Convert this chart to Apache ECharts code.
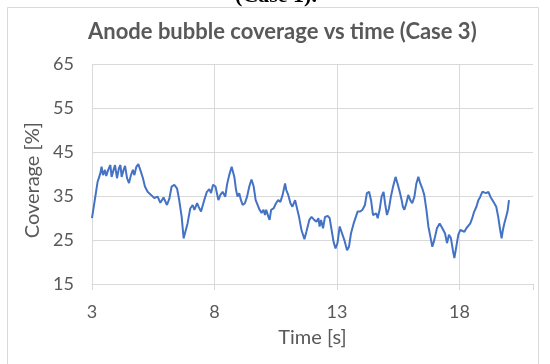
<!DOCTYPE html>
<html>
<head>
<meta charset="utf-8">
<script src="https://cdn.jsdelivr.net/npm/echarts@6/dist/echarts.min.js"></script>
<style>
  html, body { margin: 0; padding: 0; background: #ffffff; }
  #chart { width: 550px; height: 364px; }
</style>
</head>
<body>
<div id="chart"></div>
<script>
// Anode bubble coverage over time, Case 3
const timeS = [
  3.00, 3.23, 3.34, 3.39, 3.45, 3.53, 3.58, 3.67, 3.75, 3.80, 3.88, 3.94, 4.02, 4.10, 4.16, 4.21,
  4.29, 4.35, 4.43, 4.51, 4.59, 4.67, 4.73, 4.81, 4.89, 4.97, 5.08, 5.16, 5.27, 5.41, 5.54, 5.68,
  5.79, 5.92, 6.06, 6.16, 6.25, 6.36, 6.47, 6.56, 6.66, 6.74, 6.80, 6.90, 7.01, 7.11, 7.18, 7.29,
  7.35, 7.45, 7.58, 7.69, 7.79, 7.86, 7.94, 8.04, 8.16, 8.24, 8.33, 8.44, 8.51, 8.60, 8.70, 8.76,
  8.81, 8.88, 8.94, 9.01, 9.08, 9.15, 9.24, 9.33, 9.42, 9.51, 9.60, 9.68, 9.76, 9.84, 9.92, 10.00,
  10.06, 10.11, 10.20, 10.25, 10.31, 10.41, 10.51, 10.60, 10.69, 10.78, 10.88, 10.93, 11.01, 11.10,
  11.18, 11.29, 11.34, 11.45, 11.55, 11.67, 11.75, 11.87, 11.96, 12.07, 12.16, 12.24, 12.29, 12.35,
  12.43, 12.51, 12.62, 12.70, 12.78, 12.86, 12.94, 13.02, 13.11, 13.19, 13.30, 13.41, 13.49, 13.57,
  13.68, 13.76, 13.84, 13.95, 14.04, 14.14, 14.22, 14.31, 14.39, 14.47, 14.55, 14.60, 14.66, 14.74,
  14.82, 14.90, 14.96, 15.04, 15.12, 15.20, 15.29, 15.39, 15.47, 15.56, 15.64, 15.69, 15.75, 15.83,
  15.91, 15.99, 16.07, 16.16, 16.24, 16.32, 16.40, 16.48, 16.56, 16.65, 16.73, 16.81, 16.89, 16.97,
  17.08, 17.19, 17.30, 17.41, 17.49, 17.57, 17.65, 17.73, 17.79, 17.87, 17.95, 18.03, 18.11, 18.20,
  18.28, 18.36, 18.44, 18.52, 18.60, 18.69, 18.77, 18.85, 18.93, 19.01, 19.09, 19.18, 19.26, 19.34,
  19.42, 19.50, 19.58, 19.66, 19.72, 19.77, 19.83, 19.91, 19.96, 20.02
];

const coveragePct = [
  30.0, 38.3, 40.2, 41.7, 39.8, 41.0, 39.6, 41.1, 42.1, 39.4, 41.0, 42.1, 39.1, 41.4, 42.1, 39.4,
  41.0, 41.9, 39.1, 38.0, 39.8, 41.0, 39.8, 41.7, 42.3, 41.0, 39.1, 37.2, 36.0, 35.3, 34.6, 34.9,
  33.5, 34.7, 33.0, 34.5, 37.2, 37.6, 36.8, 34.1, 30.3, 25.4, 25.6, 28.8, 32.2, 33.0, 31.9, 33.4,
  32.6, 31.5, 34.1, 36.0, 36.6, 35.7, 37.6, 37.2, 34.1, 35.3, 36.0, 34.9, 37.6, 39.8, 41.7, 41.4,
  39.4, 36.4, 34.9, 35.7, 34.1, 33.0, 33.4, 34.9, 37.2, 38.8, 37.2, 34.1, 33.0, 31.9, 31.2, 31.9,
  30.7, 31.9, 30.3, 29.6, 31.9, 32.2, 33.4, 34.1, 33.7, 35.3, 37.9, 36.4, 35.3, 33.4,
  32.6, 34.1, 34.5, 30.3, 27.3, 25.2, 26.9, 29.6, 30.3, 29.6, 29.2, 30.0, 28.1, 29.6,
  27.7, 30.3, 30.5, 30.0, 27.3, 24.6, 23.1, 24.3, 28.1, 27.7, 25.0, 22.7, 23.5, 26.5,
  28.8, 29.2, 31.5, 31.5, 31.9, 33.0, 35.7, 36.0, 34.1, 30.7, 30.3, 31.1, 30.0, 31.9,
  34.9, 36.0, 33.4, 30.7, 32.2, 34.9, 37.2, 39.4, 37.9, 36.0, 34.1, 32.6, 31.9, 33.4,
  35.3, 34.1, 33.4, 34.9, 37.9, 39.4, 37.9, 36.8, 35.3, 31.9, 28.1, 25.8, 23.5, 25.0,
  27.7, 28.8, 27.7, 26.5, 24.3, 26.2, 25.4, 22.7, 20.9, 23.5, 26.2, 27.3, 27.7, 26.9,
  27.7, 27.3, 28.8, 30.0, 31.5, 32.6, 34.1, 34.9, 36.0, 36.4, 35.7, 36.0, 34.9, 34.5,
  33.4, 32.6, 30.3, 27.3, 25.4, 27.3, 28.8, 29.2, 31.5, 34.1
];

const xTicks = [3, 8, 13, 18];
const yTicks = [15, 25, 35, 45, 55, 65];

const textColor = '#595959';
const gridColor = '#d9d9d9';
const uiFont = 'Lato, "Open Sans", sans-serif';

const seriesData = timeS.map((t, i) => [t, coveragePct[i]]);

const chart = echarts.init(document.getElementById('chart'), null, { renderer: 'canvas' });

chart.setOption({
  animation: false,
  backgroundColor: '#ffffff',
  title: {
    text: 'Anode bubble coverage vs time (Case 3)',
    left: 88,
    top: 21,
    padding: 0,
    textStyle: { color: textColor, fontFamily: uiFont, fontWeight: 'bold', fontSize: 22 }
  },
  graphic: [
    {
      type: 'rect',
      shape: { x: 7.5, y: 7.5, width: 531, height: 380 },
      style: { fill: 'none', stroke: gridColor, lineWidth: 1 },
      silent: true,
      z: -10
    },
    {
      type: 'text',
      x: 276,
      y: 7,
      style: {
        text: '(Case 1).',
        fill: '#000000',
        font: 'bold 22px "Liberation Serif", "DejaVu Serif", serif',
        textAlign: 'center',
        textVerticalAlign: 'bottom'
      },
      silent: true
    }
  ],
  grid: {
    left: 92,
    right: 17,
    top: 64.5,
    bottom: 80,
    containLabel: false,
    outerBoundsMode: 'none'
  },
  xAxis: {
    type: 'value',
    min: xTicks[0],
    max: 21,
    interval: 5,
    name: 'Time [s]',
    nameLocation: 'middle',
    nameGap: 44,
    nameTextStyle: { color: textColor, fontFamily: uiFont, fontSize: 20 },
    axisLine: { show: true, lineStyle: { color: gridColor, width: 1 } },
    axisTick: { show: true, length: 6, lineStyle: { color: gridColor } },
    axisLabel: {
      color: textColor, fontFamily: uiFont, fontSize: 18, margin: 19,
      customValues: xTicks
    },
    splitLine: { show: true, showMaxLine: false, lineStyle: { color: gridColor, width: 1 } }
  },
  yAxis: {
    type: 'value',
    min: yTicks[0],
    max: yTicks[yTicks.length - 1],
    interval: 10,
    name: 'Coverage [%]',
    nameLocation: 'middle',
    nameGap: 37,
    nameRotate: 90,
    nameTextStyle: { color: textColor, fontFamily: uiFont, fontSize: 20, padding: [0, 12, 0, 0] },
    axisLine: { show: false },
    axisTick: { show: false },
    axisLabel: { color: textColor, fontFamily: uiFont, fontSize: 18, margin: 18 },
    splitLine: { show: true, lineStyle: { color: gridColor, width: 1 } }
  },
  series: [
    {
      type: 'line',
      data: seriesData,
      showSymbol: false,
      symbol: 'none',
      smooth: false,
      lineStyle: { color: '#4472C4', width: 2 },
      itemStyle: { color: '#4472C4' }
    }
  ]
});
</script>
</body>
</html>
